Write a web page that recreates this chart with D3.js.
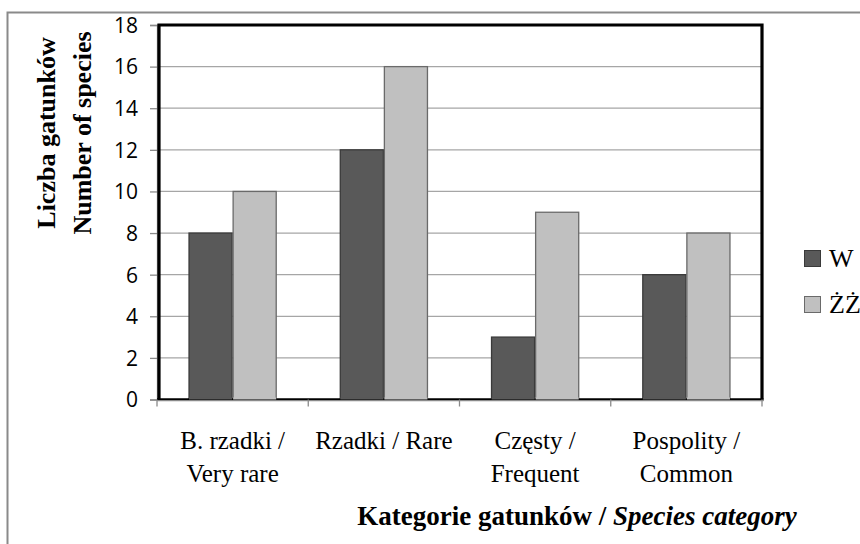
<!DOCTYPE html>
<html><head><meta charset="utf-8">
<script src="https://cdn.jsdelivr.net/npm/d3@7"></script>
<style>body{margin:0;background:#fff}svg{display:block}</style>
</head><body>
<svg id="c" width="860" height="544"></svg>
<script>
const categories = [["B. rzadki /","Very rare"],["Rzadki / Rare"],["Częsty /","Frequent"],["Pospolity /","Common"]];
const catKeys = ["vr","r","f","c"];
const seriesNames = ["W","ŻŻ"];
const seriesW = [8,12,3,6];
const seriesZZ = [10,16,9,8];
const yTicks = [0,2,4,6,8,10,12,14,16,18];

const svg = d3.select("#c");
const L=157, R=762, T=25, B=399.5;
const colors = ["#595959","#c0c0c0"], strokes=["#3a3a3a","#6a6a6a"];

// outer frame
svg.append("rect").attr("x",7.5).attr("y",12.5).attr("width",880).attr("height",560)
  .attr("fill","none").attr("stroke","#8a8a8a").attr("stroke-width",2);

const x = d3.scaleBand().domain(catKeys).range([L,R]).paddingInner(0.417).paddingOuter(0.2085);
const xs = d3.scaleBand().domain([0,1]).range([0,x.bandwidth()]);
const y = d3.scaleLinear().domain([0,18]).range([B,T]);

// gridlines
svg.append("g").selectAll("line").data(yTicks.filter(d=>d>0)).join("line")
  .attr("x1",L).attr("x2",R).attr("y1",d=>y(d)).attr("y2",d=>y(d))
  .attr("stroke","#a6a6a6").attr("stroke-width",1.3);

// y axis
const ya = svg.append("g").attr("transform",`translate(${L},0)`)
  .call(d3.axisLeft(y).tickValues(yTicks).tickSize(7).tickPadding(12).tickFormat(d3.format("d")));
ya.select(".domain").attr("stroke","#8a8a8a").attr("stroke-width",1.3);
ya.selectAll(".tick line").attr("stroke","#8a8a8a").attr("stroke-width",1.3);
ya.selectAll("text").attr("font-family","'Open Sans', sans-serif").attr("font-size",21).attr("fill","#000").attr("dy","0.35em");

// bars
const series=[seriesW,seriesZZ];
series.forEach((vals,si)=>{
  svg.append("g").selectAll("rect").data(vals).join("rect")
    .attr("x",(d,i)=>x(catKeys[i])+xs(si)+0.5)
    .attr("y",d=>y(d))
    .attr("width",xs.bandwidth()-1)
    .attr("height",d=>B-y(d))
    .attr("fill",colors[si]).attr("stroke",strokes[si]).attr("stroke-width",1.3);
});

// plot border
svg.append("path").attr("d",`M${L+2},${B} V${T} H${R} V${B}`).attr("fill","none").attr("stroke","#000").attr("stroke-width",3.2);
svg.append("line").attr("x1",L).attr("x2",R+1.5).attr("y1",B).attr("y2",B).attr("stroke","#000").attr("stroke-width",2.4);
series.forEach((vals,si)=>{
  svg.append("g").selectAll("line").data(vals).join("line")
    .attr("x1",(d,i)=>x(catKeys[i])+xs(si)+0.5).attr("x2",(d,i)=>x(catKeys[i])+xs(si)+xs.bandwidth()-0.5)
    .attr("y1",B-1).attr("y2",B-1).attr("stroke",colors[si]).attr("stroke-width",2);
});
svg.append("line").attr("x1",L).attr("x2",R+1.5).attr("y1",B+1.2).attr("y2",B+1.2).attr("stroke","#8a8a8a").attr("stroke-width",1.3);

// x ticks at boundaries
const bounds=[L,...catKeys.map(k=>x(k)+x.bandwidth()+x.step()*x.paddingInner()/2)];
bounds[4]=R;
svg.append("g").selectAll("line").data(bounds).join("line")
  .attr("x1",d=>d).attr("x2",d=>d).attr("y1",B).attr("y2",B+7)
  .attr("stroke","#8a8a8a").attr("stroke-width",1.3);

// x labels
const xl = svg.append("g").attr("font-family","'Liberation Serif', 'Times New Roman', serif").attr("font-size",25).attr("text-anchor","middle");
categories.forEach((lines,i)=>{
  lines.forEach((t,j)=>{
    xl.append("text").attr("x",x(catKeys[i])+x.bandwidth()/2).attr("y",449+j*33).text(t);
  });
});

// x title
const xt = svg.append("text").attr("x",577).attr("y",525).attr("text-anchor","middle")
  .attr("font-family","'Liberation Serif', serif").attr("font-size",27).attr("font-weight","bold");
xt.append("tspan").text("Kategorie gatunków / ");
xt.append("tspan").attr("font-style","italic").text("Species category");

// y title
const yt = svg.append("g").attr("font-family","'Liberation Serif', serif").attr("font-size",26).attr("font-weight","bold").attr("text-anchor","middle");
yt.append("text").attr("transform","translate(55,133) rotate(-90)").text("Liczba gatunków");
yt.append("text").attr("transform","translate(91,133) rotate(-90)").text("Number of species");

// legend
const lg = svg.append("g");
seriesNames.forEach((n,i)=>{
  const yy=250+i*46;
  lg.append("rect").attr("x",804.5).attr("y",yy+0.5).attr("width",16).attr("height",16)
    .attr("fill",colors[i]).attr("stroke",strokes[i]).attr("stroke-width",1);
  lg.append("text").attr("x",829).attr("y",yy+17).attr("font-family","'Liberation Serif', serif").attr("font-size",26).text(n);
});
</script>
</body></html>
